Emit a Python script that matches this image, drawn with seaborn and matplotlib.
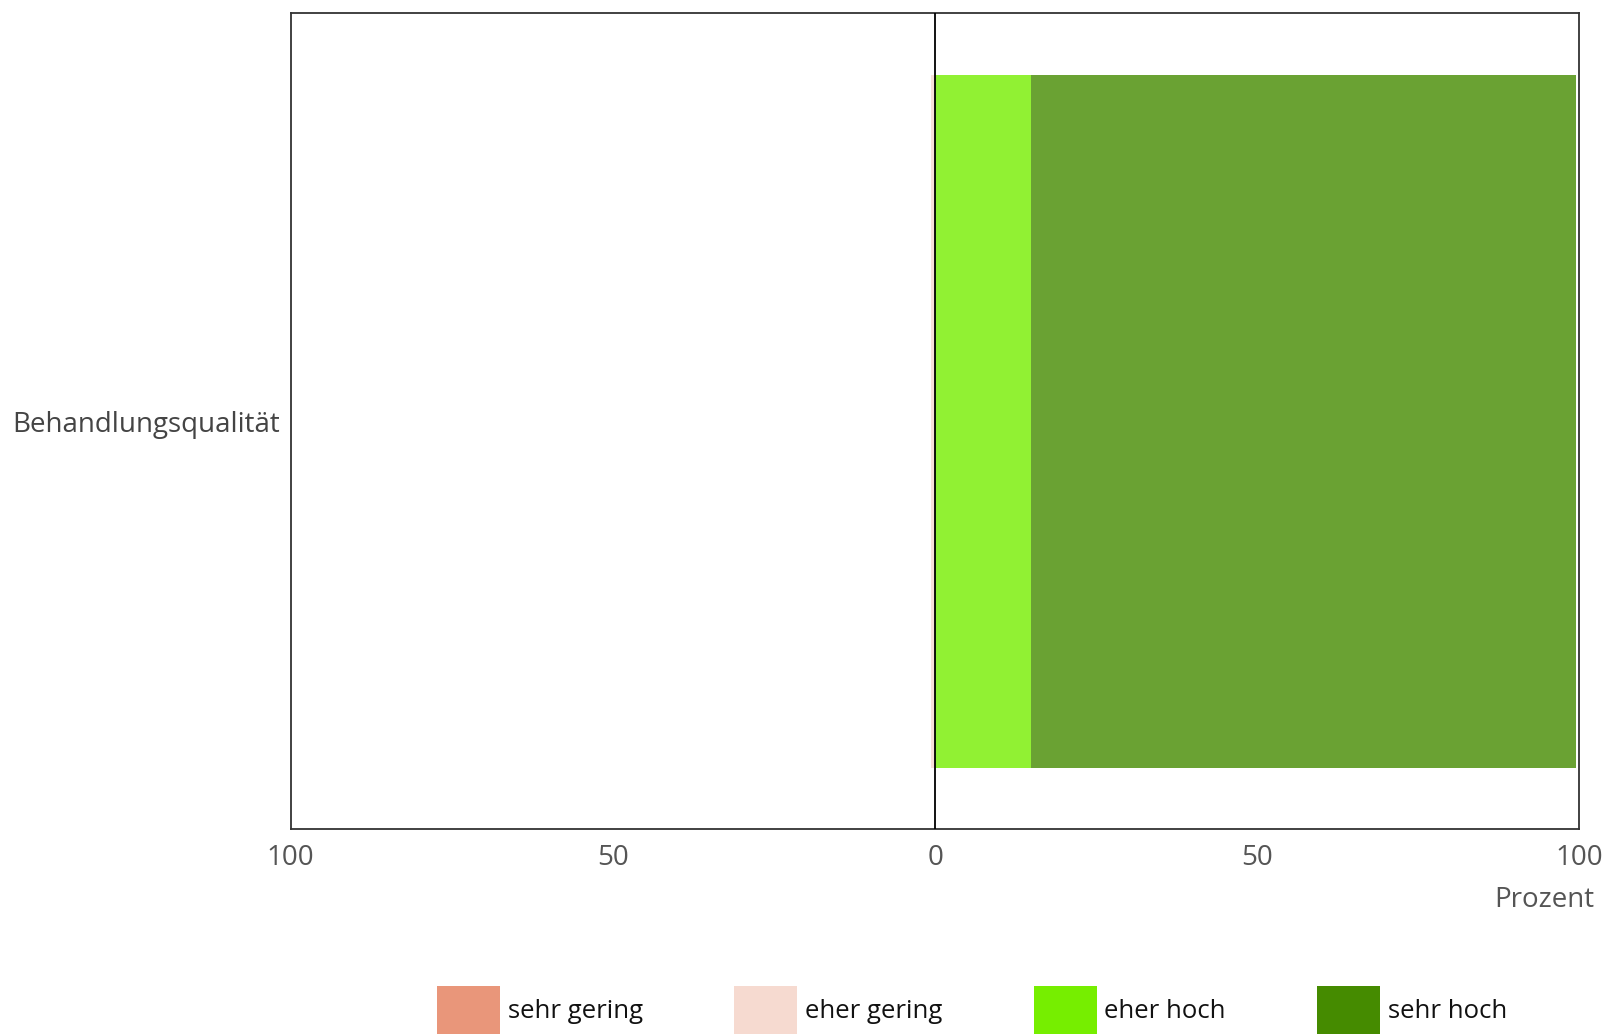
import numpy as np
import pandas as pd
import matplotlib
matplotlib.use("Agg")
import matplotlib.pyplot as plt
import matplotlib.colors as mcolors
from matplotlib.patches import Patch
import seaborn as sns

# ---- data ----
categories = ["Behandlungsqualität"]
levels = ["sehr gering", "eher gering", "eher hoch", "sehr hoch"]
sehr_gering = [0.0]
eher_gering = [0.6]
eher_hoch = [14.9]
sehr_hoch = [84.5]
tick_values = [-100, -50, 0, 50, 100]
tick_labels = ["100", "50", "0", "50", "100"]

colors = {"sehr gering": "#E9967A", "eher gering": "#F6DAD0",
          "eher hoch": "#76EE00", "sehr hoch": "#458B00"}
alpha = 0.8

def blend(c, a=alpha):
    r = np.array(mcolors.to_rgb(c))
    return tuple(1 - a * (1 - r))

sns.set_theme(style="white")
plt.rcParams["font.family"] = ["Open Sans", "DejaVu Sans"]

fig = plt.figure(figsize=(16.15, 10.36), dpi=100)
ax = fig.add_axes([0.180, 0.200, 0.798, 0.787])

df = pd.DataFrame({"cat": categories,
                   "sg": sehr_gering, "eg": eher_gering,
                   "eh": eher_hoch, "sh": sehr_hoch})

# cumulative ends, outermost drawn first
df["neg_outer"] = -(df["sg"] + df["eg"])
df["neg_inner"] = -df["eg"]
df["pos_outer"] = df["eh"] + df["sh"]
df["pos_inner"] = df["eh"]

for col, lvl in [("neg_outer", "sehr gering"), ("neg_inner", "eher gering"),
                 ("pos_outer", "sehr hoch"), ("pos_inner", "eher hoch")]:
    sns.barplot(data=df, x=col, y="cat", orient="h", width=0.85,
                color=blend(colors[lvl]), saturation=1, linewidth=0, ax=ax)

ax.axvline(0, color="black", lw=1.3, zorder=5)
ax.set_xlim(-100, 100)
ax.set_ylim(0.5, -0.5)
ax.set_xticks(tick_values)
ax.set_xticklabels(tick_labels)
ax.tick_params(axis="x", length=0, pad=11, labelsize=20, labelcolor="#555555")
ax.tick_params(axis="y", length=0, pad=8, labelsize=20, labelcolor="#444444")
ax.set_xlabel("")
ax.set_ylabel("")
for s in ax.spines.values():
    s.set_color("#333333")
    s.set_linewidth(1.3)

fig.text(0.987, 0.131, "Prozent", ha="right", va="center",
         fontsize=20, color="#555555")

handles = [Patch(facecolor=colors[l], edgecolor="none", label=l) for l in levels]
leg = fig.legend(handles=handles, loc="center", ncol=4,
                 bbox_to_anchor=(0.602, 0.025), frameon=False,
                 fontsize=18.5, handlelength=2.45, handleheight=2.45,
                 handletextpad=0.3, columnspacing=3.55, borderpad=0)
for t in leg.get_texts():
    t.set_color("#111111")

fig.savefig("out.png", dpi=100)
